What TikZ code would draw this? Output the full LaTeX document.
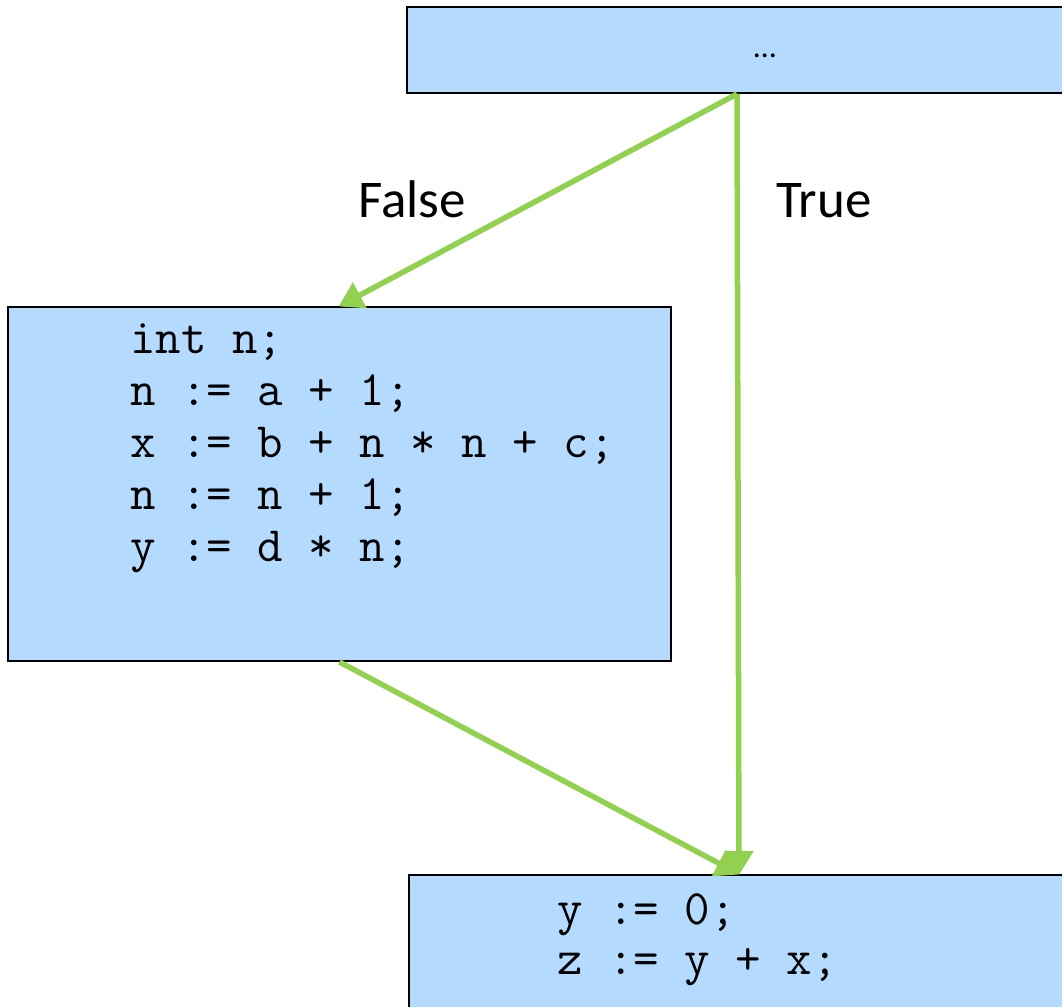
\documentclass[tikz,border=0pt]{standalone}
\usepackage{fontspec}
\setmainfont{Carlito}
\usetikzlibrary{arrows.meta}
\definecolor{boxfill}{RGB}{180,218,253}
\definecolor{arrowgreen}{RGB}{146,208,80}
\tikzset{
  blk/.style={draw=black, line width=2pt, fill=boxfill, inner sep=0pt},
  code/.style={anchor=base west, inner sep=0pt, font=\ttfamily\fontsize{49.5}{52}\selectfont},
  lbl/.style={anchor=base west, inner sep=0pt, font=\fontsize{53}{60}\selectfont},
  flow/.style={draw=arrowgreen, line width=5.5pt, -{Triangle[length=24pt,width=28pt]}, shorten >=-1pt}
}
\begin{document}
\begin{tikzpicture}[x=1pt,y=-1pt]
\useasboundingbox (0,0) rectangle (1062,1006);
\clip (0,0) rectangle (1062,1006);
\node[blk, minimum width=660pt, minimum height=86pt] (top) at (737,50) {};
\node[anchor=base, inner sep=0pt, font=\fontsize{32}{34}\selectfont] (dots) at (765,58) {…};
\node[blk, minimum width=663pt, minimum height=354pt] (left) at (339.5,484) {};
\node[blk, minimum width=660pt, minimum height=200pt] (bot) at (739,975) {};
\node[code] (l1) at (130,353) {int n;};
\node[code] (l2) at (130,405) {n := a + 1;};
\node[code] (l3) at (130,457) {x := b + n * n + c;};
\node[code] (l4) at (130,509) {n := n + 1;};
\node[code] (l5) at (130,561) {y := d * n;};
\node[code] (m1) at (557,924) {y := 0;};
\node[code] (m2) at (557,974) {z := y + x;};
\node[lbl] (false) at (358,217) {False};
\node[lbl] (true) at (776,217) {True};
\draw[flow] (top.south) -- (left.north);
\draw[flow] (top.south) -- (bot.north);
\draw[flow] (left.south) -- (bot.north);
\end{tikzpicture}
\end{document}
